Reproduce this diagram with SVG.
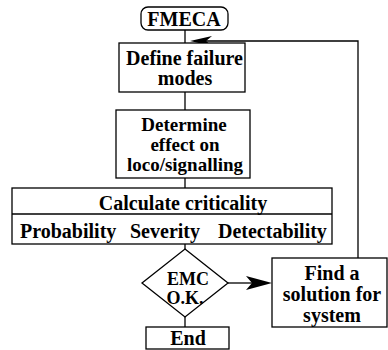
<svg xmlns="http://www.w3.org/2000/svg" width="388" height="350" viewBox="0 0 388 350" font-family="Liberation Serif, Times New Roman, serif">
<style>
.b{fill:#fff;stroke:#000;stroke-width:1.3}
.t{font-weight:bold;font-size:20px;fill:#000;text-anchor:middle}
.s{font-size:19px}
.e{font-size:18px}
.l{text-anchor:start}
.c{fill:none;stroke:#000;stroke-width:1.3}
.h{fill:#000;stroke:none}
</style>
<rect width="388" height="350" fill="#fff"/>
<g id="connectors">
<line class="c" x1="185" y1="30" x2="185" y2="43"/>
<line class="c" x1="185" y1="92" x2="185" y2="110"/>
<line class="c" x1="185" y1="178" x2="185" y2="188"/>
<line class="c" x1="185" y1="244" x2="185" y2="249"/>
<line class="c" x1="185" y1="317" x2="185" y2="327"/>
<polyline class="c" points="358,258 358,41 205,41"/>
<path class="h" d="M190,41 L212,36 L206,41 L212,46 Z"/>
<line class="c" x1="228" y1="283" x2="255" y2="283"/>
<path class="h" d="M272,283 L246,276 L252,283 L246,290 Z"/>
</g>
<g id="fmeca">
<rect class="b" x="141" y="7" width="87" height="23" rx="7"/>
<text class="t" x="184" y="26">FMECA</text>
</g>
<g id="define">
<rect class="b" x="119" y="43" width="126" height="49"/>
<text class="t" x="184.5" y="65">Define failure</text>
<text class="t" x="185" y="85">modes</text>
</g>
<g id="determine">
<rect class="b" x="116" y="110" width="134" height="68"/>
<text class="t s" x="184" y="131">Determine</text>
<text class="t s" x="185" y="151">effect on</text>
<text class="t s" x="185" y="171">loco/signalling</text>
</g>
<g id="calculate">
<rect class="b" x="12" y="188" width="320" height="56"/>
<line class="c" x1="12" y1="214" x2="332" y2="214"/>
<text class="t" x="183" y="210">Calculate criticality</text>
<text class="t l" x="20" y="238">Probability</text>
<text class="t l" x="130" y="238">Severity</text>
<text class="t l" x="218" y="238">Detectability</text>
</g>
<g id="emc">
<polygon class="b" points="185,249 228,283 185,317 142,283"/>
<text class="t e" x="188" y="285">EMC</text>
<text class="t e" x="185" y="304">O.K.</text>
</g>
<g id="end">
<rect class="b" x="146" y="327" width="83" height="22"/>
<text class="t" x="188" y="345">End</text>
</g>
<g id="find">
<rect class="b" x="272" y="258" width="115" height="69"/>
<text class="t" x="332" y="280">Find a</text>
<text class="t" x="332" y="301">solution for</text>
<text class="t" x="332" y="322">system</text>
</g>
</svg>
